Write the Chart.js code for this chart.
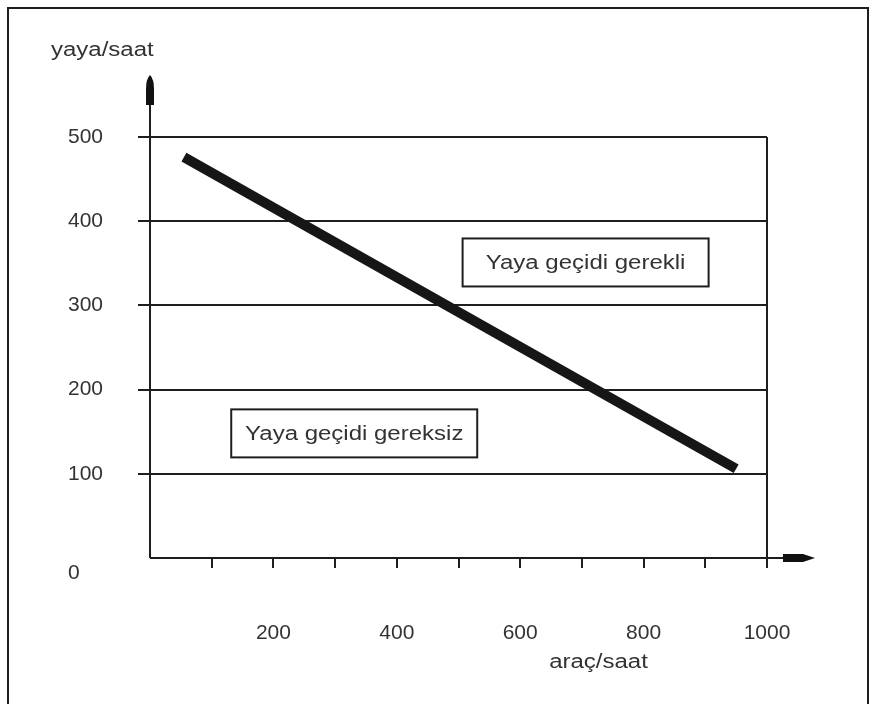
<!DOCTYPE html>
<html lang="tr">
<head>
    <meta charset="UTF-8">
    <title>Yaya geçidi</title>
    <script src="https://cdn.jsdelivr.net/npm/chart.js"></script>
    <style>
        body {
            margin: 0;
            background: #fff;
        }

        #chartBox {
            width: 877px;
            height: 704px;
        }
    </style>
</head>
<body>
    <div id="chartBox">
        <canvas id="crossingChart"></canvas>
    </div>

    <script>
        // boundary line (araç/saat vs yaya/saat)
        const lineX = [55, 950];
        const lineY = [476, 106];

        const xMin = 0, xMax = 1000, xStep = 100;
        const yMin = 0, yMax = 500, yStep = 100;

        const xTitle = 'araç/saat';
        const yTitle = 'yaya/saat';

        // region labels, anchored at box centre in data units
        const noteText = ['Yaya geçidi gerekli', 'Yaya geçidi gereksiz'];
        const noteX = [706, 331];
        const noteY = [351, 148];

        const FONT = '"Liberation Sans", Arial, sans-serif';
        const INK = '#1e1e1e';
        const TEXT = '#333';
        const STRETCH = 1.2; // the scanned original is a bit wide

        function stretchedText(ctx, text, x, y, align) {
            ctx.save();
            ctx.font = '20px ' + FONT;
            ctx.fillStyle = TEXT;
            ctx.textBaseline = 'middle';
            const w = ctx.measureText(text).width * STRETCH;
            let left = x;
            if (align === 'center') left = x - w / 2;
            ctx.translate(left, y);
            ctx.scale(STRETCH, 1);
            ctx.textAlign = 'left';
            ctx.fillText(text, 0, 0);
            ctx.restore();
        }

        const decorations = {
            id: 'decorations',
            afterDraw(chart) {
                const ctx = chart.ctx;
                const xs = chart.scales.x;
                const ys = chart.scales.y;
                const area = chart.chartArea;
                const x0 = xs.getPixelForValue(xMin);
                const y0 = ys.getPixelForValue(yMin);

                ctx.save();
                ctx.strokeStyle = INK;
                ctx.fillStyle = '#111';

                // outer frame
                ctx.lineWidth = 2;
                ctx.strokeRect(8, 8, chart.width - 17, chart.height + 20);

                // y axis with arrow
                ctx.lineWidth = 2;
                const yTip = area.top - 62;
                ctx.beginPath();
                ctx.moveTo(x0, y0);
                ctx.lineTo(x0, yTip + 20);
                ctx.stroke();
                ctx.beginPath();
                ctx.moveTo(x0, yTip);
                ctx.quadraticCurveTo(x0 + 4, yTip + 4, x0 + 4, yTip + 14);
                ctx.lineTo(x0 + 4, yTip + 30);
                ctx.lineTo(x0 - 4, yTip + 30);
                ctx.lineTo(x0 - 4, yTip + 14);
                ctx.quadraticCurveTo(x0 - 4, yTip + 4, x0, yTip);
                ctx.fill();

                // x axis with arrow
                const xEnd = xs.getPixelForValue(xMax);
                ctx.beginPath();
                ctx.moveTo(x0, y0);
                ctx.lineTo(xEnd + 18, y0);
                ctx.stroke();
                ctx.beginPath();
                ctx.moveTo(xEnd + 16, y0 - 4);
                ctx.lineTo(xEnd + 36, y0 - 4);
                ctx.lineTo(xEnd + 48, y0);
                ctx.lineTo(xEnd + 36, y0 + 4);
                ctx.lineTo(xEnd + 16, y0 + 4);
                ctx.closePath();
                ctx.fill();

                // "0" sits under the x axis in the original
                ctx.font = '21px ' + FONT;
                ctx.fillStyle = TEXT;
                ctx.textAlign = 'left';
                ctx.textBaseline = 'middle';
                ctx.fillText(String(yMin), ys.left, y0 + 15);

                // axis titles
                stretchedText(ctx, yTitle, 51, 50, 'left');
                stretchedText(ctx, xTitle, (x0 + xEnd) / 2 + 140, 662, 'center');

                // region boxes
                noteText.forEach((t, i) => {
                    const cx = xs.getPixelForValue(noteX[i]);
                    const cy = ys.getPixelForValue(noteY[i]);
                    ctx.fillStyle = '#fff';
                    ctx.fillRect(cx - 123, cy - 24, 246, 48);
                    ctx.strokeStyle = INK;
                    ctx.lineWidth = 2;
                    ctx.strokeRect(cx - 123, cy - 24, 246, 48);
                    stretchedText(ctx, t, cx, cy + 1, 'center');
                });

                ctx.restore();
            }
        };

        const ctx = document.getElementById('crossingChart').getContext('2d');
        new Chart(ctx, {
            type: 'scatter',
            data: {
                datasets: [{
                    data: lineX.map((x, i) => ({ x: x, y: lineY[i] })),
                    showLine: true,
                    borderColor: '#161616',
                    borderWidth: 10,
                    borderCapStyle: 'butt',
                    pointRadius: 0,
                }],
            },
            options: {
                responsive: true,
                maintainAspectRatio: false,
                animation: false,
                layout: {
                    padding: { left: 68, top: 137, right: 110, bottom: 0 },
                },
                plugins: {
                    legend: { display: false },
                    tooltip: { enabled: false },
                },
                scales: {
                    x: {
                        type: 'linear',
                        min: xMin,
                        max: xMax,
                        afterFit: s => { s.height = 146; },
                        border: { display: false },
                        grid: {
                            color: c => c.tick && c.tick.value === xMax ? INK : 'transparent',
                            tickColor: c => c.tick && c.tick.value === xMin ? 'transparent' : INK,
                            lineWidth: 2,
                            tickLength: 10,
                        },
                        ticks: {
                            stepSize: xStep,
                            padding: 53,
                            maxRotation: 0,
                            autoSkip: false,
                            color: TEXT,
                            font: { family: FONT, size: 21 },
                            callback: v => (v > 0 && v % 200 === 0) ? v : '',
                        },
                    },
                    y: {
                        min: yMin,
                        max: yMax,
                        afterFit: s => { s.width = 82; },
                        border: { display: false },
                        grid: {
                            color: c => c.tick && c.tick.value === yMin ? 'transparent' : INK,
                            lineWidth: 2,
                            tickLength: 12,
                        },
                        ticks: {
                            stepSize: yStep,
                            crossAlign: 'far',
                            color: TEXT,
                            font: { family: FONT, size: 21 },
                            callback: v => v === yMin ? '' : v,
                        },
                    },
                },
            },
            plugins: [decorations],
        });
    </script>
</body>
</html>
